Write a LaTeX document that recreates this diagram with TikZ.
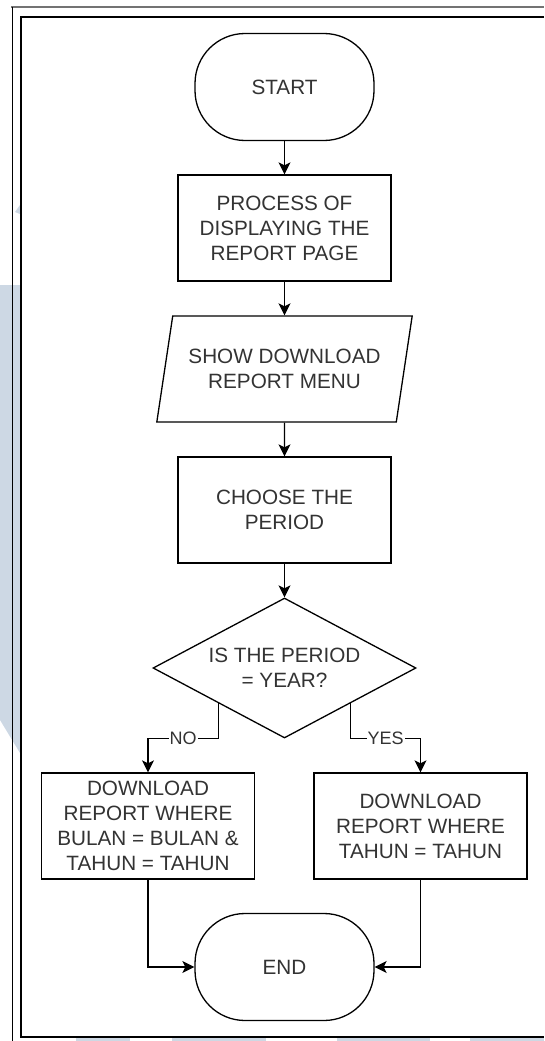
\documentclass[tikz,border=0pt]{standalone}
\usepackage{fontspec}
\setmainfont{Liberation Sans}
\usetikzlibrary{shapes.geometric,arrows.meta}

\begin{document}
\begin{tikzpicture}[x=1pt, y=-1pt,
    font=\fontsize{20.7}{25}\selectfont,
    txt/.style={text=black!80, align=center, inner sep=0pt},
    terminal/.style={txt, draw, line width=1.3pt, rounded corners=50pt,
        minimum width=179pt, minimum height=107pt},
    procbox/.style={txt, draw, line width=1.3pt,
        minimum width=213pt, minimum height=106pt},
    iobox/.style={txt, draw, line width=1.3pt, trapezium,
        trapezium left angle=71, trapezium right angle=109,
        trapezium stretches=true, minimum width=256pt, minimum height=106pt},
    decision/.style={txt, draw, line width=1.3pt, diamond, aspect=1.88,
        minimum width=263pt, minimum height=140pt},
    arr/.style={line width=1.3pt, -{Stealth[length=12pt, width=12pt, inset=3pt]}},
    lbl/.style={txt, fill=white, inner sep=1pt, font=\fontsize{18}{22}\selectfont}]
    \useasboundingbox (0,0) rectangle (544,1041);
    \definecolor{wmark}{HTML}{CDD8E4}
    % watermark behind the page
    \fill[wmark] (0,285) -- (20,285) -- (20,753) -- (0,720) -- cycle;
    \fill[wmark] (15,212) -- (20,205) -- (20,214) -- cycle;
    \foreach \a/\b in {76/130, 172/266, 337/430, 470/544}
        \fill[wmark] (\a,1038) rectangle (\b,1041);
    % page frame
    \draw[black!55, line width=1.2pt] (11,7) -- (544,7);
    \draw[line width=1pt] (12,7) -- (12,1041);
    \draw[line width=1.4pt] (544,17) -- (21,17) -- (21,1037) -- (544,1037);

    \node[terminal] (start) at (284.5,87) {START};
    \node[procbox] (proc) at (284.5,228) {PROCESS OF\\DISPLAYING THE\\REPORT PAGE};
    \node[iobox] (menu) at (284.5,369) {SHOW DOWNLOAD\\REPORT MENU};
    \node[procbox] (choose) at (284.5,510) {CHOOSE THE\\PERIOD};
    \node[decision] (check) at (284.5,668) {IS THE PERIOD\\= YEAR?};
    \node[procbox] (dlmonth) at (148,826) {DOWNLOAD\\REPORT WHERE\\BULAN = BULAN \&\\TAHUN = TAHUN};
    \node[procbox] (dlyear) at (420.5,826) {DOWNLOAD\\REPORT WHERE\\TAHUN = TAHUN};
    \node[terminal] (finish) at (284.5,967) {END};

    \draw[arr] (start) -- (proc);
    \draw[arr] (proc) -- (menu);
    \draw[arr] (menu) -- (choose);
    \draw[arr] (choose) -- (check);
    \draw[arr] (check.south west) -- ++(0,35) -| node[lbl, pos=0.25] {NO} (dlmonth);
    \draw[arr] (check.south east) -- ++(0,35) -| node[lbl, pos=0.25] {YES} (dlyear);
    \draw[arr] (dlmonth) |- (finish);
    \draw[arr] (dlyear) |- (finish);
\end{tikzpicture}
\end{document}
